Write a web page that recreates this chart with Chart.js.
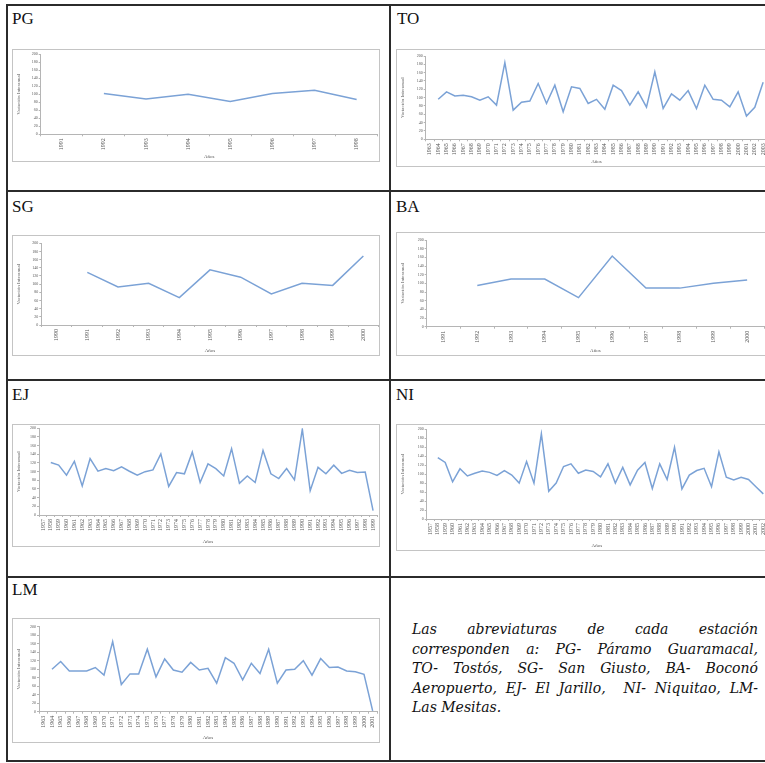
<!DOCTYPE html>
<html>
<head>
<meta charset="utf-8">
<script src="https://cdn.jsdelivr.net/npm/chart.js@4.4.1/dist/chart.umd.min.js"></script>
<style>
  html, body { margin: 0; padding: 0; background: #fff; }
  #page { position: relative; width: 765px; height: 763px; overflow: hidden; background: #fff; }
  .hline, .vline { position: absolute; background: #2b2b2b; }
  .tag { position: absolute; font-family: 'Liberation Serif', serif; font-size: 17px; line-height: 17px; color: #111; }
  .frame { position: absolute; border: 1px solid #c4c4c4; box-sizing: border-box; }
  canvas { position: absolute; }
  #note { position: absolute; left: 412px; top: 620px; width: 346px;
          font-family: 'DejaVu Serif', serif; font-style: italic; font-size: 14px; line-height: 19.5px; color: #111; }
  #note div { text-align: justify; text-align-last: justify; white-space: nowrap; }
  #note div.last { text-align-last: left; }
</style>
</head>
<body>
<div id="page">
  <div class="hline" style="left:6px; top:4px; width:780px; height:2px"></div>
  <div class="hline" style="left:6px; top:190px; width:780px; height:2px"></div>
  <div class="hline" style="left:6px; top:379px; width:780px; height:2px"></div>
  <div class="hline" style="left:6px; top:576px; width:780px; height:2px"></div>
  <div class="hline" style="left:6px; top:760px; width:780px; height:2px"></div>
  <div class="vline" style="left:6px; top:4px; width:2px; height:758px"></div>
  <div class="vline" style="left:389px; top:4px; width:2px; height:758px"></div>

  <div class="tag" style="left:12px; top:10px">PG</div>
  <div class="tag" style="left:397px; top:10px">TO</div>
  <div class="tag" style="left:12px; top:198px">SG</div>
  <div class="tag" style="left:396px; top:198px">BA</div>
  <div class="tag" style="left:12px; top:386px">EJ</div>
  <div class="tag" style="left:396px; top:386px">NI</div>
  <div class="tag" style="left:12px; top:581px">LM</div>

  <div id="note">
    <div>Las abreviaturas de cada estación</div>
    <div>corresponden a: PG- Páramo Guaramacal,</div>
    <div>TO- Tostós, SG- San Giusto, BA- Boconó</div>
    <div>Aeropuerto, EJ- El Jarillo,&nbsp; NI- Niquitao, LM-</div>
    <div class="last">Las Mesitas.</div>
  </div>
</div>

<script>
// --- Data (Variación Interanual por estación) ---
const yTicks = [0, 20, 40, 60, 80, 100, 120, 140, 160, 180, 200];

const pgYears = ['1991', '1992', '1993', '1994', '1995', '1996', '1997', '1998'];
const pgValues = [null, 102, 88, 100, 82, 102, 110, 87];

const toYears = ['1963', '1964', '1965', '1966', '1967', '1968', '1969', '1970', '1971', '1972',
    '1973', '1974', '1975', '1976', '1977', '1978', '1979', '1980', '1981', '1982',
    '1983', '1984', '1985', '1986', '1987', '1988', '1989', '1990', '1991', '1992',
    '1993', '1994', '1995', '1996', '1997', '1998', '1999', '2000', '2001', '2002', '2003'];
const toValues = [null, 96, 114, 104, 106, 102, 94, 102, 82, 184,
    70, 89, 92, 134, 86, 130, 66, 126, 122, 86,
    96, 72, 130, 117, 82, 114, 77, 162, 74, 109,
    94, 117, 74, 130, 96, 94, 78, 114, 56, 77, 137];

const sgYears = ['1990', '1991', '1992', '1993', '1994', '1995', '1996', '1997', '1998', '1999', '2000'];
const sgValues = [null, 129, 93, 102, 67, 135, 117, 76, 102, 97, 169];

const baYears = ['1991', '1992', '1993', '1994', '1995', '1996', '1997', '1998', '1999', '2000'];
const baValues = [null, 95, 110, 110, 67, 163, 89, 89, 100, 108];

const ejYears = ['1957', '1958', '1959', '1960', '1961', '1962', '1963', '1964', '1965', '1966',
    '1967', '1968', '1969', '1970', '1971', '1972', '1973', '1974', '1975', '1976',
    '1977', '1978', '1979', '1980', '1981', '1982', '1983', '1984', '1985', '1986',
    '1987', '1988', '1989', '1990', '1991', '1992', '1993', '1994', '1995', '1996',
    '1997', '1998', '1999'];
const ejValues = [null, 121, 115, 92, 124, 67, 130, 101, 107, 102,
    111, 101, 92, 100, 104, 141, 66, 98, 95, 145,
    75, 118, 107, 90, 153, 73, 90, 75, 149, 95,
    84, 107, 81, 198, 56, 110, 95, 115, 96, 103,
    98, 99, 10];

const niYears = ['1957', '1958', '1959', '1960', '1961', '1962', '1963', '1964', '1965', '1966',
    '1967', '1968', '1969', '1970', '1971', '1972', '1973', '1974', '1975', '1976',
    '1977', '1978', '1979', '1980', '1981', '1982', '1983', '1984', '1985', '1986',
    '1987', '1988', '1989', '1990', '1991', '1992', '1993', '1994', '1995', '1996',
    '1997', '1998', '1999', '2000', '2001', '2002'];
const niValues = [null, 137, 126, 83, 112, 96, 102, 107, 104, 97,
    108, 98, 80, 128, 80, 190, 62, 80, 117, 123,
    102, 109, 106, 94, 123, 80, 115, 76, 109, 126,
    68, 123, 88, 160, 67, 98, 108, 113, 72, 150,
    93, 87, 93, 88, 72, 56];

const lmYears = ['1963', '1964', '1965', '1966', '1967', '1968', '1969', '1970', '1971', '1972',
    '1973', '1974', '1975', '1976', '1977', '1978', '1979', '1980', '1981', '1982',
    '1983', '1984', '1985', '1986', '1987', '1988', '1989', '1990', '1991', '1992',
    '1993', '1994', '1995', '1996', '1997', '1998', '1999', '2000', '2001'];
const lmValues = [null, 100, 118, 96, 96, 96, 104, 86, 165, 64,
    89, 89, 147, 82, 124, 98, 93, 116, 98, 102,
    67, 127, 114, 75, 114, 90, 147, 67, 98, 100,
    120, 86, 125, 104, 105, 96, 94, 88, 2];

// frame box [x, y, w, h] and plot area [left, top, right, bottom] in page pixels
const panels = [
    { labels: pgYears, values: pgValues, box: [12, 49, 368, 113],   plot: [40.7, 54.3, 377.7, 134.3] },
    { labels: toYears, values: toValues, box: [396, 49, 380, 118],  plot: [425.7, 56, 767.3, 139.3] },
    { labels: sgYears, values: sgValues, box: [12, 235, 368, 121],  plot: [41.3, 243.3, 378.7, 325] },
    { labels: baYears, values: baValues, box: [396, 232, 380, 124], plot: [426.7, 240, 764, 326.7] },
    { labels: ejYears, values: ejValues, box: [12, 424, 368, 123],  plot: [39, 428.3, 377, 515] },
    { labels: niYears, values: niValues, box: [396, 424, 380, 127], plot: [426.7, 429.3, 767, 519] },
    { labels: lmYears, values: lmValues, box: [12, 618, 368, 125],  plot: [39, 626.7, 377, 711.7] }
];

const page = document.getElementById('page');
const tickFont = { family: 'Liberation Serif', size: 4 };

function drawPanel(p) {
    const [bx, by, bw, bh] = p.box;
    const [pl, pt, pr, pb] = p.plot;

    const frame = document.createElement('div');
    frame.className = 'frame';
    Object.assign(frame.style, { left: bx + 'px', top: by + 'px', width: bw + 'px', height: bh + 'px' });
    page.appendChild(frame);

    // canvas a bit wider than the frame so the last label has room
    const cw = bw + 8;
    const canvas = document.createElement('canvas');
    canvas.width = cw;
    canvas.height = bh;
    Object.assign(canvas.style, { left: bx + 'px', top: by + 'px', width: cw + 'px', height: bh + 'px' });
    page.appendChild(canvas);

    new Chart(canvas.getContext('2d'), {
        type: 'line',
        data: {
            labels: p.labels,
            datasets: [{
                data: p.values,
                borderColor: '#7ba2d6',
                borderWidth: 1.5,
                pointRadius: 0,
                tension: 0,
                fill: false
            }]
        },
        options: {
            responsive: false,
            animation: false,
            layout: { padding: { left: 0, top: pt - by, right: bx + cw - pr, bottom: 0 } },
            plugins: { legend: { display: false }, tooltip: { enabled: false } },
            scales: {
                x: {
                    type: 'category',
                    offset: true,
                    grid: { offset: true, drawOnChartArea: false, tickLength: 2, color: '#b5b5b5' },
                    border: { color: '#b5b5b5' },
                    ticks: { autoSkip: false, maxRotation: 90, minRotation: 90, padding: 2,
                             font: { family: 'Liberation Serif', size: 6 }, color: '#555' },
                    title: { display: true, text: 'Años', padding: { top: 0, bottom: 2 },
                             font: { family: 'Liberation Serif', size: 5 }, color: '#555' },
                    afterFit: s => { s.height = by + bh - pb; }
                },
                y: {
                    min: 0,
                    max: 200,
                    afterBuildTicks: s => { s.ticks = yTicks.map(v => ({ value: v })); },
                    grid: { drawOnChartArea: false, tickLength: 2, color: '#b5b5b5' },
                    border: { color: '#b5b5b5' },
                    ticks: { padding: 1, font: tickFont, color: '#555' },
                    title: { display: true, text: 'Variación Interanual', padding: { top: 4, bottom: 0 },
                             font: { family: 'Liberation Serif', size: 5 }, color: '#555' },
                    afterFit: s => { s.width = pl - bx; }
                }
            }
        }
    });
}

panels.forEach(drawPanel);
</script>
</body>
</html>
